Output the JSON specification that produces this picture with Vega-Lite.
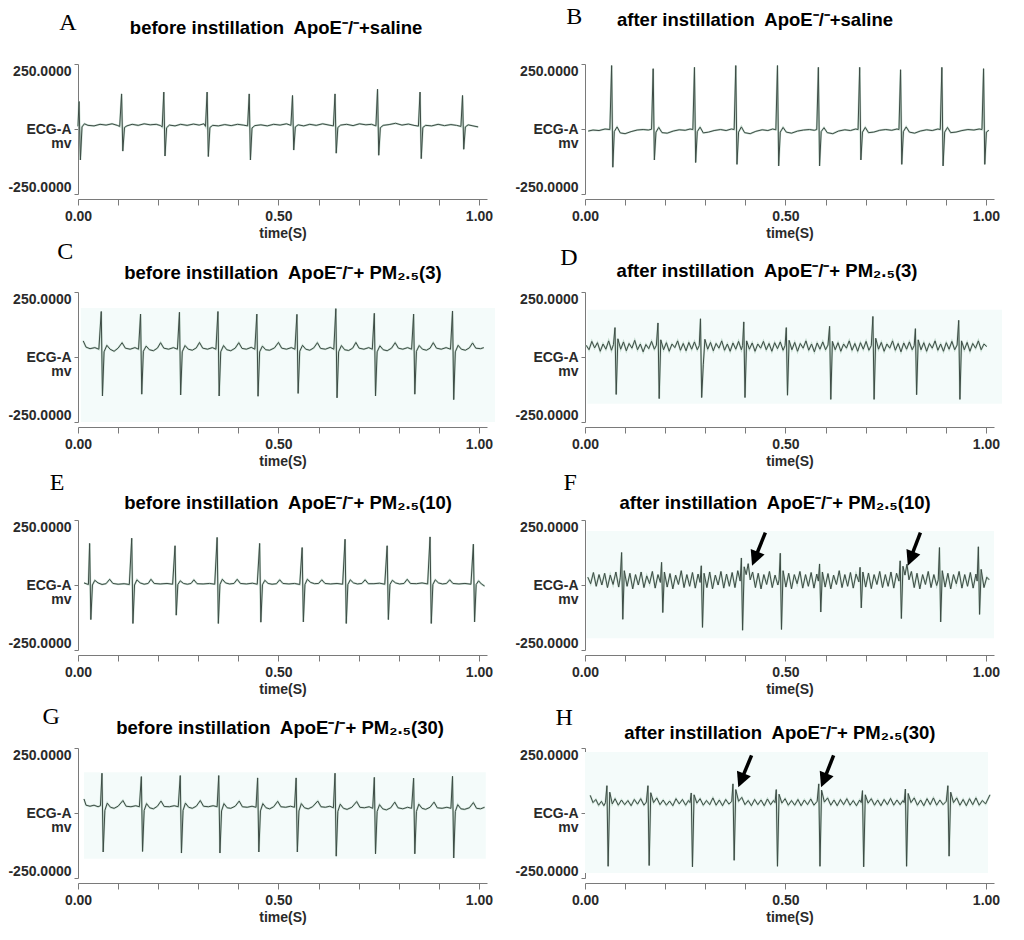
{
"$schema":"https://vega.github.io/schema/vega-lite/v6.json",
"background":"white",
"padding":{"left":7,"top":4,"right":5,"bottom":5},
"bounds":"flush",
"columns":2,
"spacing":{"row":98,"column":98},
"config":{"view":{"stroke":null},"axis":{"grid":false,"domainColor":"#7a7a7a","tickColor":"#7a7a7a","labelFont":"Liberation Sans Narrow, Arial Narrow, Liberation Sans, sans-serif","labelFontWeight":"bold","labelColor":"#2a2a2a","labelFontSize":14,"titleFont":"Liberation Sans Narrow, Arial Narrow, Liberation Sans, sans-serif","titleFontWeight":"bold","titleColor":"#2a2a2a","titleFontSize":14,"labelOverlap":false,"labelFlush":false}},
"datasets":{
"A":[{"t":0.0,"v":10},{"t":0.0025,"v":106},{"t":0.006,"v":-119},{"t":0.010,"v":8},{"t":0.016,"v":20},{"t":0.025,"v":14},{"t":0.040,"v":12},{"t":0.055,"v":18},{"t":0.070,"v":15},{"t":0.085,"v":20},{"t":0.098,"v":14},{"t":0.104,"v":10},
{"t":0.1087,"v":135},{"t":0.1117,"v":-85},{"t":0.116,"v":6},{"t":0.122,"v":12},{"t":0.135,"v":18},{"t":0.150,"v":14},{"t":0.165,"v":20},{"t":0.180,"v":16},{"t":0.195,"v":18},{"t":0.206,"v":13},{"t":0.210,"v":8},
{"t":0.214,"v":142},{"t":0.217,"v":-104},{"t":0.221,"v":5},{"t":0.228,"v":15},{"t":0.242,"v":12},{"t":0.256,"v":18},{"t":0.272,"v":14},{"t":0.288,"v":19},{"t":0.302,"v":15},{"t":0.314,"v":20},{"t":0.318,"v":10},
{"t":0.322,"v":142},{"t":0.325,"v":-106},{"t":0.329,"v":6},{"t":0.336,"v":14},{"t":0.350,"v":12},{"t":0.366,"v":17},{"t":0.382,"v":13},{"t":0.398,"v":18},{"t":0.412,"v":15},{"t":0.423,"v":12},
{"t":0.427,"v":135},{"t":0.430,"v":-119},{"t":0.434,"v":4},{"t":0.441,"v":13},{"t":0.456,"v":16},{"t":0.472,"v":12},{"t":0.488,"v":18},{"t":0.504,"v":15},{"t":0.520,"v":20},{"t":0.531,"v":14},
{"t":0.535,"v":129},{"t":0.538,"v":-81},{"t":0.542,"v":8},{"t":0.549,"v":16},{"t":0.563,"v":12},{"t":0.578,"v":18},{"t":0.594,"v":14},{"t":0.610,"v":20},{"t":0.626,"v":15},{"t":0.637,"v":12},
{"t":0.641,"v":135},{"t":0.644,"v":-93},{"t":0.648,"v":6},{"t":0.655,"v":15},{"t":0.670,"v":18},{"t":0.686,"v":13},{"t":0.702,"v":20},{"t":0.718,"v":16},{"t":0.732,"v":18},{"t":0.743,"v":12},
{"t":0.747,"v":153},{"t":0.750,"v":-101},{"t":0.754,"v":5},{"t":0.761,"v":14},{"t":0.776,"v":17},{"t":0.792,"v":22},{"t":0.808,"v":15},{"t":0.824,"v":19},{"t":0.838,"v":14},{"t":0.849,"v":11},
{"t":0.853,"v":142},{"t":0.856,"v":-114},{"t":0.860,"v":6},{"t":0.867,"v":14},{"t":0.882,"v":12},{"t":0.898,"v":18},{"t":0.914,"v":13},{"t":0.930,"v":17},{"t":0.944,"v":14},{"t":0.955,"v":10},
{"t":0.959,"v":129},{"t":0.962,"v":-78},{"t":0.966,"v":8},{"t":0.973,"v":16},{"t":0.985,"v":12},{"t":0.998,"v":8}],
"B":[{"t":0.008,"v":-8},{"t":0.02,"v":-4},{"t":0.035,"v":-6},{"t":0.05,"v":0},{"t":0.062,"v":-2},
{"t":0.0664,"v":244},{"t":0.0694,"v":-147},{"t":0.073,"v":-10},{"t":0.080,"v":8},{"t":0.088,"v":-15},{"t":0.100,"v":-18},{"t":0.115,"v":-10},{"t":0.130,"v":-4},{"t":0.145,"v":-2},{"t":0.158,"v":-4},{"t":0.166,"v":-1},
{"t":0.170,"v":232},{"t":0.173,"v":-119},{"t":0.177,"v":-12},{"t":0.184,"v":6},{"t":0.192,"v":-14},{"t":0.205,"v":-16},{"t":0.220,"v":-8},{"t":0.235,"v":-3},{"t":0.250,"v":-5},{"t":0.262,"v":0},{"t":0.269,"v":-2},
{"t":0.273,"v":237},{"t":0.276,"v":-129},{"t":0.280,"v":-10},{"t":0.287,"v":7},{"t":0.295,"v":-15},{"t":0.308,"v":-12},{"t":0.322,"v":-6},{"t":0.338,"v":-2},{"t":0.352,"v":-6},{"t":0.365,"v":0},{"t":0.372,"v":-2},
{"t":0.376,"v":244},{"t":0.379,"v":-136},{"t":0.383,"v":-12},{"t":0.390,"v":8},{"t":0.398,"v":-14},{"t":0.412,"v":-18},{"t":0.426,"v":-9},{"t":0.442,"v":-3},{"t":0.456,"v":-6},{"t":0.468,"v":0},{"t":0.476,"v":-3},
{"t":0.480,"v":244},{"t":0.483,"v":-142},{"t":0.487,"v":-12},{"t":0.494,"v":6},{"t":0.502,"v":-12},{"t":0.515,"v":-16},{"t":0.530,"v":-8},{"t":0.545,"v":-4},{"t":0.560,"v":-2},{"t":0.572,"v":-5},{"t":0.578,"v":-2},
{"t":0.582,"v":237},{"t":0.585,"v":-142},{"t":0.589,"v":-10},{"t":0.596,"v":5},{"t":0.604,"v":-14},{"t":0.618,"v":-18},{"t":0.632,"v":-8},{"t":0.648,"v":-3},{"t":0.662,"v":-6},{"t":0.675,"v":0},{"t":0.681,"v":-2},
{"t":0.685,"v":237},{"t":0.688,"v":-119},{"t":0.692,"v":-12},{"t":0.699,"v":6},{"t":0.707,"v":-14},{"t":0.720,"v":-12},{"t":0.735,"v":-5},{"t":0.750,"v":-2},{"t":0.765,"v":-5},{"t":0.778,"v":0},{"t":0.783,"v":-2},
{"t":0.787,"v":228},{"t":0.790,"v":-136},{"t":0.794,"v":-10},{"t":0.801,"v":8},{"t":0.809,"v":-12},{"t":0.822,"v":-16},{"t":0.836,"v":-8},{"t":0.852,"v":-3},{"t":0.866,"v":-6},{"t":0.880,"v":0},{"t":0.886,"v":-2},
{"t":0.890,"v":237},{"t":0.893,"v":-142},{"t":0.897,"v":-12},{"t":0.904,"v":6},{"t":0.912,"v":-14},{"t":0.925,"v":-12},{"t":0.940,"v":-6},{"t":0.955,"v":-2},{"t":0.970,"v":-4},{"t":0.983,"v":0},{"t":0.990,"v":-2},
{"t":0.994,"v":232},{"t":0.997,"v":-136},{"t":1.001,"v":-12},{"t":1.007,"v":-5}],
"C":[{"t":0.013,"v":62},{"t":0.020,"v":38},{"t":0.030,"v":32},{"t":0.042,"v":36},{"t":0.052,"v":30},
{"t":0.058,"v":175},{"t":0.061,"v":-150},{"t":0.065,"v":20},{"t":0.072,"v":45},{"t":0.080,"v":30},{"t":0.090,"v":22},{"t":0.100,"v":34},{"t":0.110,"v":55},{"t":0.118,"v":34},{"t":0.130,"v":30},{"t":0.142,"v":36},{"t":0.151,"v":30},
{"t":0.156,"v":165},{"t":0.159,"v":-143},{"t":0.163,"v":22},{"t":0.170,"v":42},{"t":0.178,"v":28},{"t":0.188,"v":24},{"t":0.198,"v":34},{"t":0.206,"v":55},{"t":0.214,"v":34},{"t":0.226,"v":30},{"t":0.238,"v":36},{"t":0.248,"v":30},
{"t":0.253,"v":172},{"t":0.256,"v":-146},{"t":0.260,"v":20},{"t":0.267,"v":44},{"t":0.275,"v":30},{"t":0.285,"v":26},{"t":0.295,"v":35},{"t":0.303,"v":56},{"t":0.311,"v":34},{"t":0.323,"v":30},{"t":0.335,"v":36},{"t":0.344,"v":30},
{"t":0.349,"v":175},{"t":0.352,"v":-150},{"t":0.356,"v":20},{"t":0.363,"v":44},{"t":0.371,"v":28},{"t":0.381,"v":24},{"t":0.392,"v":34},{"t":0.401,"v":55},{"t":0.409,"v":33},{"t":0.420,"v":30},{"t":0.432,"v":37},{"t":0.441,"v":30},
{"t":0.446,"v":165},{"t":0.449,"v":-151},{"t":0.453,"v":20},{"t":0.460,"v":42},{"t":0.468,"v":28},{"t":0.478,"v":26},{"t":0.490,"v":35},{"t":0.500,"v":56},{"t":0.508,"v":34},{"t":0.520,"v":30},{"t":0.532,"v":36},{"t":0.541,"v":30},
{"t":0.546,"v":164},{"t":0.549,"v":-140},{"t":0.553,"v":22},{"t":0.560,"v":45},{"t":0.568,"v":30},{"t":0.578,"v":26},{"t":0.588,"v":35},{"t":0.597,"v":55},{"t":0.605,"v":33},{"t":0.617,"v":30},{"t":0.629,"v":37},{"t":0.638,"v":30},
{"t":0.643,"v":186},{"t":0.646,"v":-157},{"t":0.650,"v":20},{"t":0.657,"v":44},{"t":0.665,"v":28},{"t":0.675,"v":25},{"t":0.685,"v":34},{"t":0.693,"v":56},{"t":0.701,"v":34},{"t":0.713,"v":30},{"t":0.725,"v":36},{"t":0.734,"v":30},
{"t":0.739,"v":168},{"t":0.742,"v":-150},{"t":0.746,"v":20},{"t":0.753,"v":43},{"t":0.761,"v":28},{"t":0.771,"v":24},{"t":0.782,"v":34},{"t":0.791,"v":55},{"t":0.799,"v":34},{"t":0.810,"v":30},{"t":0.822,"v":36},{"t":0.832,"v":30},
{"t":0.837,"v":165},{"t":0.840,"v":-143},{"t":0.844,"v":22},{"t":0.851,"v":44},{"t":0.859,"v":30},{"t":0.869,"v":26},{"t":0.878,"v":34},{"t":0.886,"v":55},{"t":0.894,"v":34},{"t":0.906,"v":30},{"t":0.918,"v":36},{"t":0.929,"v":30},
{"t":0.934,"v":177},{"t":0.937,"v":-164},{"t":0.941,"v":20},{"t":0.948,"v":45},{"t":0.956,"v":30},{"t":0.966,"v":26},{"t":0.976,"v":35},{"t":0.984,"v":54},{"t":0.992,"v":34},{"t":1.004,"v":32},{"t":1.012,"v":36}],
"D":[{"t":0.003,"v":45},{"t":0.010,"v":28},{"t":0.017,"v":60},{"t":0.024,"v":35},{"t":0.031,"v":55},{"t":0.038,"v":22},{"t":0.045,"v":50},{"t":0.052,"v":30},{"t":0.059,"v":62},{"t":0.066,"v":26},{"t":0.071,"v":48},
{"t":0.0748,"v":113},{"t":0.0778,"v":-144},{"t":0.082,"v":70},{"t":0.089,"v":30},{"t":0.096,"v":58},{"t":0.103,"v":24},{"t":0.110,"v":52},{"t":0.117,"v":34},{"t":0.124,"v":64},{"t":0.131,"v":28},{"t":0.138,"v":50},{"t":0.145,"v":20},{"t":0.152,"v":48},{"t":0.159,"v":32},{"t":0.166,"v":60},{"t":0.173,"v":30},{"t":0.178,"v":45},
{"t":0.182,"v":131},{"t":0.185,"v":-160},{"t":0.189,"v":66},{"t":0.196,"v":28},{"t":0.203,"v":55},{"t":0.210,"v":22},{"t":0.217,"v":50},{"t":0.224,"v":36},{"t":0.231,"v":62},{"t":0.238,"v":26},{"t":0.245,"v":52},{"t":0.252,"v":24},{"t":0.259,"v":56},{"t":0.266,"v":30},{"t":0.273,"v":58},{"t":0.280,"v":28},{"t":0.285,"v":44},
{"t":0.288,"v":147},{"t":0.291,"v":-156},{"t":0.295,"v":-30},{"t":0.299,"v":68},{"t":0.306,"v":30},{"t":0.313,"v":56},{"t":0.320,"v":24},{"t":0.327,"v":52},{"t":0.334,"v":34},{"t":0.341,"v":62},{"t":0.348,"v":26},{"t":0.355,"v":50},{"t":0.362,"v":22},{"t":0.369,"v":54},{"t":0.376,"v":30},{"t":0.383,"v":60},{"t":0.390,"v":28},{"t":0.393,"v":44},
{"t":0.396,"v":135},{"t":0.399,"v":-156},{"t":0.403,"v":62},{"t":0.410,"v":30},{"t":0.417,"v":54},{"t":0.424,"v":22},{"t":0.431,"v":50},{"t":0.438,"v":34},{"t":0.445,"v":60},{"t":0.452,"v":28},{"t":0.459,"v":52},{"t":0.466,"v":22},{"t":0.473,"v":55},{"t":0.480,"v":32},{"t":0.487,"v":58},{"t":0.494,"v":26},{"t":0.499,"v":44},
{"t":0.502,"v":113},{"t":0.505,"v":-147},{"t":0.509,"v":64},{"t":0.516,"v":28},{"t":0.523,"v":56},{"t":0.530,"v":22},{"t":0.537,"v":52},{"t":0.544,"v":34},{"t":0.551,"v":62},{"t":0.558,"v":26},{"t":0.565,"v":50},{"t":0.572,"v":20},{"t":0.579,"v":54},{"t":0.586,"v":30},{"t":0.593,"v":58},{"t":0.600,"v":28},{"t":0.606,"v":46},
{"t":0.610,"v":118},{"t":0.613,"v":-163},{"t":0.617,"v":60},{"t":0.624,"v":28},{"t":0.631,"v":55},{"t":0.638,"v":22},{"t":0.645,"v":50},{"t":0.652,"v":34},{"t":0.659,"v":62},{"t":0.666,"v":26},{"t":0.673,"v":52},{"t":0.680,"v":22},{"t":0.687,"v":55},{"t":0.694,"v":30},{"t":0.701,"v":60},{"t":0.708,"v":26},{"t":0.714,"v":44},
{"t":0.718,"v":156},{"t":0.721,"v":-163},{"t":0.725,"v":72},{"t":0.732,"v":30},{"t":0.739,"v":56},{"t":0.746,"v":22},{"t":0.753,"v":50},{"t":0.760,"v":34},{"t":0.767,"v":62},{"t":0.774,"v":26},{"t":0.781,"v":52},{"t":0.788,"v":20},{"t":0.795,"v":54},{"t":0.802,"v":30},{"t":0.809,"v":58},{"t":0.816,"v":28},{"t":0.821,"v":44},
{"t":0.824,"v":109},{"t":0.827,"v":-145},{"t":0.831,"v":66},{"t":0.838,"v":28},{"t":0.845,"v":55},{"t":0.852,"v":22},{"t":0.859,"v":52},{"t":0.866,"v":34},{"t":0.873,"v":62},{"t":0.880,"v":26},{"t":0.887,"v":50},{"t":0.894,"v":22},{"t":0.901,"v":55},{"t":0.908,"v":30},{"t":0.915,"v":60},{"t":0.922,"v":28},{"t":0.928,"v":46},
{"t":0.932,"v":141},{"t":0.935,"v":-163},{"t":0.939,"v":62},{"t":0.946,"v":28},{"t":0.953,"v":56},{"t":0.960,"v":22},{"t":0.967,"v":52},{"t":0.974,"v":34},{"t":0.981,"v":62},{"t":0.988,"v":28},{"t":0.995,"v":50},{"t":1.002,"v":40}],
"E":[{"t":0.015,"v":8},{"t":0.022,"v":4},{"t":0.026,"v":2},
{"t":0.029,"v":160},{"t":0.032,"v":-133},{"t":0.036,"v":0},{"t":0.042,"v":18},{"t":0.050,"v":8},{"t":0.060,"v":2},{"t":0.070,"v":5},{"t":0.079,"v":22},{"t":0.087,"v":6},{"t":0.100,"v":3},{"t":0.115,"v":5},{"t":0.128,"v":2},
{"t":0.134,"v":180},{"t":0.137,"v":-148},{"t":0.141,"v":0},{"t":0.147,"v":20},{"t":0.155,"v":8},{"t":0.165,"v":3},{"t":0.175,"v":6},{"t":0.182,"v":22},{"t":0.190,"v":6},{"t":0.205,"v":4},{"t":0.222,"v":6},{"t":0.236,"v":3},
{"t":0.242,"v":151},{"t":0.245,"v":-116},{"t":0.249,"v":2},{"t":0.255,"v":16},{"t":0.263,"v":6},{"t":0.273,"v":3},{"t":0.282,"v":6},{"t":0.289,"v":20},{"t":0.297,"v":5},{"t":0.312,"v":4},{"t":0.328,"v":6},{"t":0.341,"v":3},
{"t":0.347,"v":183},{"t":0.350,"v":-148},{"t":0.354,"v":2},{"t":0.360,"v":22},{"t":0.368,"v":8},{"t":0.378,"v":4},{"t":0.389,"v":6},{"t":0.397,"v":22},{"t":0.405,"v":6},{"t":0.420,"v":4},{"t":0.435,"v":7},{"t":0.447,"v":3},
{"t":0.453,"v":160},{"t":0.456,"v":-143},{"t":0.460,"v":1},{"t":0.466,"v":18},{"t":0.474,"v":6},{"t":0.484,"v":3},{"t":0.495,"v":5},{"t":0.503,"v":20},{"t":0.511,"v":6},{"t":0.526,"v":4},{"t":0.540,"v":6},{"t":0.553,"v":2},
{"t":0.559,"v":144},{"t":0.562,"v":-142},{"t":0.566,"v":2},{"t":0.572,"v":22},{"t":0.580,"v":10},{"t":0.590,"v":5},{"t":0.600,"v":6},{"t":0.608,"v":20},{"t":0.616,"v":6},{"t":0.630,"v":4},{"t":0.646,"v":6},{"t":0.660,"v":3},
{"t":0.666,"v":176},{"t":0.669,"v":-148},{"t":0.673,"v":2},{"t":0.679,"v":20},{"t":0.687,"v":8},{"t":0.697,"v":4},{"t":0.708,"v":6},{"t":0.716,"v":20},{"t":0.724,"v":5},{"t":0.738,"v":5},{"t":0.752,"v":7},{"t":0.765,"v":3},
{"t":0.771,"v":151},{"t":0.774,"v":-133},{"t":0.778,"v":2},{"t":0.784,"v":18},{"t":0.792,"v":8},{"t":0.802,"v":4},{"t":0.813,"v":6},{"t":0.821,"v":22},{"t":0.829,"v":6},{"t":0.844,"v":5},{"t":0.858,"v":8},{"t":0.872,"v":4},
{"t":0.878,"v":185},{"t":0.881,"v":-148},{"t":0.885,"v":2},{"t":0.891,"v":20},{"t":0.899,"v":8},{"t":0.909,"v":4},{"t":0.919,"v":6},{"t":0.927,"v":20},{"t":0.935,"v":6},{"t":0.950,"v":4},{"t":0.965,"v":6},{"t":0.980,"v":3},
{"t":0.986,"v":157},{"t":0.989,"v":-142},{"t":0.993,"v":2},{"t":0.999,"v":16},{"t":1.006,"v":4},{"t":1.014,"v":-4}],
"F":[{"t":0.007,"v":30},{"t":0.014,"v":5},{"t":0.021,"v":48},{"t":0.028,"v":-5},{"t":0.035,"v":40},{"t":0.042,"v":0},{"t":0.049,"v":45},{"t":0.056,"v":-10},{"t":0.063,"v":38},{"t":0.070,"v":2},{"t":0.077,"v":50},{"t":0.084,"v":-8},{"t":0.088,"v":30},
{"t":0.0913,"v":125},{"t":0.0943,"v":-132},{"t":0.098,"v":55},{"t":0.105,"v":-5},{"t":0.112,"v":45},{"t":0.119,"v":-15},{"t":0.126,"v":40},{"t":0.133,"v":0},{"t":0.140,"v":50},{"t":0.147,"v":-10},{"t":0.154,"v":35},{"t":0.161,"v":5},{"t":0.168,"v":52},{"t":0.175,"v":-12},{"t":0.182,"v":40},{"t":0.188,"v":10},
{"t":0.191,"v":87},{"t":0.194,"v":-106},{"t":0.198,"v":50},{"t":0.205,"v":-8},{"t":0.212,"v":44},{"t":0.219,"v":-15},{"t":0.226,"v":38},{"t":0.233,"v":2},{"t":0.240,"v":55},{"t":0.247,"v":-10},{"t":0.254,"v":40},{"t":0.261,"v":-5},{"t":0.268,"v":48},{"t":0.275,"v":-12},{"t":0.282,"v":42},{"t":0.287,"v":10},
{"t":0.290,"v":74},{"t":0.293,"v":-163},{"t":0.297,"v":45},{"t":0.304,"v":-10},{"t":0.311,"v":50},{"t":0.318,"v":-15},{"t":0.325,"v":38},{"t":0.332,"v":0},{"t":0.339,"v":52},{"t":0.346,"v":-12},{"t":0.353,"v":42},{"t":0.360,"v":-5},{"t":0.367,"v":48},{"t":0.374,"v":-10},{"t":0.381,"v":55},{"t":0.387,"v":15},
{"t":0.390,"v":104},{"t":0.393,"v":-174},{"t":0.397,"v":70},{"t":0.402,"v":40},{"t":0.407,"v":82},{"t":0.412,"v":20},{"t":0.418,"v":50},{"t":0.425,"v":-10},{"t":0.432,"v":45},{"t":0.439,"v":-15},{"t":0.446,"v":40},{"t":0.453,"v":2},{"t":0.460,"v":52},{"t":0.467,"v":-10},{"t":0.474,"v":38},{"t":0.481,"v":0},{"t":0.484,"v":20},
{"t":0.487,"v":122},{"t":0.490,"v":-171},{"t":0.494,"v":55},{"t":0.501,"v":-8},{"t":0.508,"v":45},{"t":0.515,"v":-15},{"t":0.522,"v":40},{"t":0.529,"v":5},{"t":0.536,"v":52},{"t":0.543,"v":-12},{"t":0.550,"v":40},{"t":0.557,"v":-5},{"t":0.564,"v":48},{"t":0.571,"v":-12},{"t":0.578,"v":42},{"t":0.582,"v":15},
{"t":0.585,"v":81},{"t":0.588,"v":-104},{"t":0.592,"v":50},{"t":0.599,"v":-8},{"t":0.606,"v":44},{"t":0.613,"v":-15},{"t":0.620,"v":38},{"t":0.627,"v":2},{"t":0.634,"v":55},{"t":0.641,"v":-10},{"t":0.648,"v":40},{"t":0.655,"v":-5},{"t":0.662,"v":48},{"t":0.669,"v":-12},{"t":0.676,"v":42},{"t":0.683,"v":12},
{"t":0.686,"v":68},{"t":0.689,"v":-88},{"t":0.693,"v":50},{"t":0.700,"v":-8},{"t":0.707,"v":46},{"t":0.714,"v":-14},{"t":0.721,"v":40},{"t":0.728,"v":2},{"t":0.735,"v":52},{"t":0.742,"v":-10},{"t":0.749,"v":40},{"t":0.756,"v":-5},{"t":0.763,"v":50},{"t":0.770,"v":-12},{"t":0.777,"v":45},{"t":0.783,"v":15},
{"t":0.786,"v":93},{"t":0.789,"v":-129},{"t":0.793,"v":72},{"t":0.798,"v":38},{"t":0.803,"v":80},{"t":0.808,"v":20},{"t":0.814,"v":52},{"t":0.821,"v":-10},{"t":0.828,"v":45},{"t":0.835,"v":-15},{"t":0.842,"v":40},{"t":0.849,"v":2},{"t":0.856,"v":52},{"t":0.863,"v":-10},{"t":0.870,"v":40},{"t":0.877,"v":-2},{"t":0.881,"v":20},
{"t":0.884,"v":144},{"t":0.887,"v":-142},{"t":0.891,"v":55},{"t":0.898,"v":-8},{"t":0.905,"v":45},{"t":0.912,"v":-15},{"t":0.919,"v":40},{"t":0.926,"v":5},{"t":0.933,"v":52},{"t":0.940,"v":-12},{"t":0.947,"v":40},{"t":0.954,"v":-5},{"t":0.961,"v":48},{"t":0.968,"v":-12},{"t":0.975,"v":42},{"t":0.978,"v":15},
{"t":0.981,"v":147},{"t":0.984,"v":-113},{"t":0.988,"v":60},{"t":0.995,"v":-10},{"t":1.002,"v":30},{"t":1.008,"v":20}],
"G":[{"t":0.015,"v":54},{"t":0.020,"v":30},{"t":0.030,"v":26},{"t":0.040,"v":30},{"t":0.050,"v":24},{"t":0.056,"v":28},
{"t":0.0598,"v":153},{"t":0.0628,"v":-150},{"t":0.067,"v":10},{"t":0.073,"v":38},{"t":0.081,"v":22},{"t":0.090,"v":18},{"t":0.100,"v":26},{"t":0.112,"v":48},{"t":0.120,"v":26},{"t":0.132,"v":24},{"t":0.144,"v":28},{"t":0.153,"v":24},
{"t":0.158,"v":140},{"t":0.161,"v":-148},{"t":0.165,"v":10},{"t":0.171,"v":36},{"t":0.179,"v":20},{"t":0.188,"v":16},{"t":0.198,"v":26},{"t":0.207,"v":46},{"t":0.215,"v":25},{"t":0.228,"v":24},{"t":0.240,"v":28},{"t":0.250,"v":24},
{"t":0.255,"v":144},{"t":0.258,"v":-154},{"t":0.262,"v":10},{"t":0.268,"v":38},{"t":0.276,"v":22},{"t":0.285,"v":18},{"t":0.295,"v":26},{"t":0.305,"v":48},{"t":0.313,"v":26},{"t":0.325,"v":24},{"t":0.337,"v":28},{"t":0.347,"v":24},
{"t":0.351,"v":144},{"t":0.354,"v":-154},{"t":0.358,"v":8},{"t":0.364,"v":36},{"t":0.372,"v":20},{"t":0.381,"v":18},{"t":0.392,"v":26},{"t":0.402,"v":46},{"t":0.410,"v":24},{"t":0.422,"v":22},{"t":0.434,"v":26},{"t":0.444,"v":22},
{"t":0.448,"v":135},{"t":0.451,"v":-150},{"t":0.455,"v":8},{"t":0.461,"v":36},{"t":0.469,"v":20},{"t":0.478,"v":16},{"t":0.488,"v":24},{"t":0.498,"v":45},{"t":0.506,"v":24},{"t":0.518,"v":22},{"t":0.530,"v":26},{"t":0.540,"v":22},
{"t":0.544,"v":135},{"t":0.547,"v":-150},{"t":0.551,"v":8},{"t":0.557,"v":36},{"t":0.565,"v":20},{"t":0.574,"v":16},{"t":0.585,"v":24},{"t":0.598,"v":46},{"t":0.606,"v":24},{"t":0.617,"v":22},{"t":0.628,"v":26},{"t":0.637,"v":20},
{"t":0.641,"v":153},{"t":0.644,"v":-166},{"t":0.648,"v":6},{"t":0.654,"v":34},{"t":0.662,"v":18},{"t":0.671,"v":14},{"t":0.683,"v":22},{"t":0.695,"v":44},{"t":0.703,"v":22},{"t":0.714,"v":20},{"t":0.726,"v":24},{"t":0.735,"v":18},
{"t":0.739,"v":137},{"t":0.742,"v":-157},{"t":0.746,"v":6},{"t":0.752,"v":32},{"t":0.760,"v":16},{"t":0.769,"v":12},{"t":0.780,"v":20},{"t":0.790,"v":42},{"t":0.798,"v":20},{"t":0.810,"v":16},{"t":0.822,"v":22},{"t":0.832,"v":18},
{"t":0.837,"v":134},{"t":0.840,"v":-157},{"t":0.844,"v":6},{"t":0.850,"v":34},{"t":0.858,"v":18},{"t":0.867,"v":14},{"t":0.878,"v":22},{"t":0.888,"v":42},{"t":0.896,"v":20},{"t":0.908,"v":18},{"t":0.920,"v":22},{"t":0.930,"v":18},
{"t":0.934,"v":141},{"t":0.937,"v":-173},{"t":0.941,"v":6},{"t":0.947,"v":32},{"t":0.955,"v":16},{"t":0.964,"v":14},{"t":0.976,"v":20},{"t":0.986,"v":40},{"t":0.994,"v":18},{"t":1.004,"v":16},{"t":1.014,"v":22}],
"H":[{"t":0.013,"v":68},{"t":0.020,"v":40},{"t":0.027,"v":52},{"t":0.034,"v":30},{"t":0.041,"v":45},{"t":0.047,"v":28},{"t":0.051,"v":40},
{"t":0.0547,"v":105},{"t":0.0577,"v":-205},{"t":0.0617,"v":80},{"t":0.068,"v":35},{"t":0.075,"v":55},{"t":0.083,"v":30},{"t":0.091,"v":50},{"t":0.099,"v":32},{"t":0.107,"v":48},{"t":0.115,"v":28},{"t":0.123,"v":52},{"t":0.131,"v":34},{"t":0.139,"v":55},{"t":0.147,"v":30},{"t":0.153,"v":42},
{"t":0.157,"v":105},{"t":0.160,"v":-202},{"t":0.164,"v":78},{"t":0.171,"v":40},{"t":0.179,"v":58},{"t":0.187,"v":32},{"t":0.195,"v":50},{"t":0.203,"v":30},{"t":0.211,"v":46},{"t":0.219,"v":28},{"t":0.227,"v":55},{"t":0.235,"v":35},{"t":0.243,"v":52},{"t":0.251,"v":30},{"t":0.258,"v":48},{"t":0.262,"v":40},
{"t":0.265,"v":77},{"t":0.268,"v":-207},{"t":0.272,"v":70},{"t":0.279,"v":38},{"t":0.287,"v":55},{"t":0.295,"v":30},{"t":0.303,"v":48},{"t":0.311,"v":32},{"t":0.319,"v":58},{"t":0.327,"v":30},{"t":0.335,"v":50},{"t":0.343,"v":28},{"t":0.351,"v":52},{"t":0.359,"v":34},{"t":0.366,"v":45},
{"t":0.369,"v":112},{"t":0.372,"v":-182},{"t":0.376,"v":90},{"t":0.383,"v":45},{"t":0.391,"v":60},{"t":0.399,"v":32},{"t":0.407,"v":48},{"t":0.415,"v":28},{"t":0.423,"v":52},{"t":0.431,"v":32},{"t":0.439,"v":50},{"t":0.447,"v":28},{"t":0.455,"v":54},{"t":0.463,"v":32},{"t":0.470,"v":48},{"t":0.474,"v":40},
{"t":0.477,"v":90},{"t":0.480,"v":-205},{"t":0.484,"v":72},{"t":0.491,"v":38},{"t":0.499,"v":55},{"t":0.507,"v":30},{"t":0.515,"v":48},{"t":0.523,"v":30},{"t":0.531,"v":52},{"t":0.539,"v":28},{"t":0.547,"v":50},{"t":0.555,"v":32},{"t":0.563,"v":54},{"t":0.571,"v":30},{"t":0.579,"v":45},
{"t":0.583,"v":112},{"t":0.586,"v":-205},{"t":0.590,"v":88},{"t":0.597,"v":42},{"t":0.605,"v":58},{"t":0.613,"v":30},{"t":0.621,"v":50},{"t":0.629,"v":28},{"t":0.637,"v":52},{"t":0.645,"v":32},{"t":0.653,"v":55},{"t":0.661,"v":30},{"t":0.669,"v":48},{"t":0.677,"v":28},{"t":0.685,"v":50},{"t":0.689,"v":40},
{"t":0.692,"v":86},{"t":0.695,"v":-207},{"t":0.699,"v":70},{"t":0.706,"v":38},{"t":0.714,"v":55},{"t":0.722,"v":30},{"t":0.730,"v":50},{"t":0.738,"v":28},{"t":0.746,"v":52},{"t":0.754,"v":32},{"t":0.762,"v":56},{"t":0.770,"v":30},{"t":0.778,"v":50},{"t":0.786,"v":32},{"t":0.793,"v":48},{"t":0.796,"v":40},
{"t":0.799,"v":92},{"t":0.802,"v":-205},{"t":0.806,"v":75},{"t":0.813,"v":40},{"t":0.821,"v":58},{"t":0.829,"v":30},{"t":0.837,"v":50},{"t":0.845,"v":28},{"t":0.853,"v":55},{"t":0.861,"v":32},{"t":0.869,"v":58},{"t":0.877,"v":30},{"t":0.885,"v":50},{"t":0.893,"v":32},{"t":0.901,"v":45},
{"t":0.905,"v":105},{"t":0.908,"v":-166},{"t":0.912,"v":80},{"t":0.919,"v":40},{"t":0.927,"v":58},{"t":0.935,"v":30},{"t":0.943,"v":52},{"t":0.951,"v":28},{"t":0.959,"v":55},{"t":0.967,"v":32},{"t":0.975,"v":58},{"t":0.983,"v":30},{"t":0.991,"v":48},{"t":0.999,"v":35},{"t":1.010,"v":70}],
"arrF":[{"t":0.4498,"v":201.7,"te":0.4241,"ve":103,"tt":0.4166,"tv":74.4},{"t":0.8365,"v":201.7,"te":0.8121,"ve":103,"tt":0.805,"tv":74.4}],
"arrH":[{"t":0.4154,"v":221.6,"te":0.3897,"ve":126.4,"tt":0.3823,"tv":98.8},{"t":0.620,"v":221.6,"te":0.5957,"ve":126.4,"tt":0.5887,"tv":98.8}]
},
"concat":[
{"width":409,"height":130,"layer":[
{"data":{"name":"A"},"mark":{"type":"line","color":"#c4dccf","strokeWidth":2},"encoding":{"x":{"field":"t","type":"quantitative","scale":{"domain":[0,1.02],"nice":false,"zero":false},"axis":{"values":[0,0.1,0.2,0.3,0.4,0.5,0.6,0.7,0.8,0.9,1],"labelExpr":"datum.value==0||datum.value==0.5||datum.value==1?format(datum.value,'.2f'):''","offset":5,"tickSize":6,"labelPadding":4,"title":"time(S)","titlePadding":3}},"y":{"field":"v","type":"quantitative","scale":{"domain":[-250,250],"nice":false,"zero":false},"axis":{"values":[-250,0,250],"labelExpr":"datum.value>0?'250.0000':(datum.value<0?'-250.0000':['ECG-A','mv'])","tickSize":4,"labelPadding":3,"title":null,"labelLineHeight":14,"labelBaseline":{"condition":[{"test":"datum.value>0","value":"top"},{"test":"datum.value<0","value":"bottom"}],"value":"middle"}}}}},
{"data":{"name":"A"},"mark":{"type":"line","color":"#3e4b45","strokeWidth":1},"encoding":{"x":{"field":"t","type":"quantitative"},"y":{"field":"v","type":"quantitative"}}},
{"data":{"values":[{"s":"A"}]},"mark":{"type":"text","font":"Liberation Serif","fontSize":24,"baseline":"alphabetic","align":"center","color":"black"},"encoding":{"x":{"datum":-0.025},"y":{"datum":381},"text":{"field":"s"}}},
{"data":{"values":[{"s":"before instillation\u00a0 ApoE⁻/⁻+saline"}]},"mark":{"type":"text","font":"Liberation Sans","fontWeight":"bold","fontSize":18.5,"baseline":"alphabetic","align":"center","color":"black"},"encoding":{"x":{"datum":0.494},"y":{"datum":365},"text":{"field":"s"}}}
]},
{"width":409,"height":130,"layer":[
{"data":{"name":"B"},"mark":{"type":"line","color":"#c4dccf","strokeWidth":2},"encoding":{"x":{"field":"t","type":"quantitative","scale":{"domain":[0,1.02],"nice":false,"zero":false},"axis":{"values":[0,0.1,0.2,0.3,0.4,0.5,0.6,0.7,0.8,0.9,1],"labelExpr":"datum.value==0||datum.value==0.5||datum.value==1?format(datum.value,'.2f'):''","offset":5,"tickSize":6,"labelPadding":4,"title":"time(S)","titlePadding":3}},"y":{"field":"v","type":"quantitative","scale":{"domain":[-250,250],"nice":false,"zero":false},"axis":{"values":[-250,0,250],"labelExpr":"datum.value>0?'250.0000':(datum.value<0?'-250.0000':['ECG-A','mv'])","tickSize":4,"labelPadding":3,"title":null,"labelLineHeight":14,"labelBaseline":{"condition":[{"test":"datum.value>0","value":"top"},{"test":"datum.value<0","value":"bottom"}],"value":"middle"}}}}},
{"data":{"name":"B"},"mark":{"type":"line","color":"#3e4b45","strokeWidth":1},"encoding":{"x":{"field":"t","type":"quantitative"},"y":{"field":"v","type":"quantitative"}}},
{"data":{"values":[{"s":"B"}]},"mark":{"type":"text","font":"Liberation Serif","fontSize":24,"baseline":"alphabetic","align":"center","color":"black"},"encoding":{"x":{"datum":-0.027},"y":{"datum":404},"text":{"field":"s"}}},
{"data":{"values":[{"s":"after instillation\u00a0 ApoE⁻/⁻+saline"}]},"mark":{"type":"text","font":"Liberation Sans","fontWeight":"bold","fontSize":18.5,"baseline":"alphabetic","align":"center","color":"black"},"encoding":{"x":{"datum":0.424},"y":{"datum":396},"text":{"field":"s"}}}
]},
{"width":409,"height":130,"layer":[
{"data":{"values":[{"x1":0.007,"x2":1.04,"y1":188,"y2":-250}]},"mark":{"type":"rect","color":"#f4fbfa"},"encoding":{"x":{"field":"x1","type":"quantitative"},"x2":{"field":"x2"},"y":{"field":"y1","type":"quantitative"},"y2":{"field":"y2"}}},
{"data":{"name":"C"},"mark":{"type":"line","color":"#c4dccf","strokeWidth":2},"encoding":{"x":{"field":"t","type":"quantitative","scale":{"domain":[0,1.02],"nice":false,"zero":false},"axis":{"values":[0,0.1,0.2,0.3,0.4,0.5,0.6,0.7,0.8,0.9,1],"labelExpr":"datum.value==0||datum.value==0.5||datum.value==1?format(datum.value,'.2f'):''","offset":5,"tickSize":6,"labelPadding":4,"title":"time(S)","titlePadding":3}},"y":{"field":"v","type":"quantitative","scale":{"domain":[-250,250],"nice":false,"zero":false},"axis":{"values":[-250,0,250],"labelExpr":"datum.value>0?'250.0000':(datum.value<0?'-250.0000':['ECG-A','mv'])","tickSize":4,"labelPadding":3,"title":null,"labelLineHeight":14,"labelBaseline":{"condition":[{"test":"datum.value>0","value":"top"},{"test":"datum.value<0","value":"bottom"}],"value":"middle"}}}}},
{"data":{"name":"C"},"mark":{"type":"line","color":"#3e4b45","strokeWidth":1},"encoding":{"x":{"field":"t","type":"quantitative"},"y":{"field":"v","type":"quantitative"}}},
{"data":{"values":[{"s":"C"}]},"mark":{"type":"text","font":"Liberation Serif","fontSize":24,"baseline":"alphabetic","align":"center","color":"black"},"encoding":{"x":{"datum":-0.032},"y":{"datum":377},"text":{"field":"s"}}},
{"data":{"values":[{"s":"before instillation\u00a0 ApoE⁻/⁻+ PM₂.₅(3)"}]},"mark":{"type":"text","font":"Liberation Sans","fontWeight":"bold","fontSize":18.5,"baseline":"alphabetic","align":"center","color":"black"},"encoding":{"x":{"datum":0.511},"y":{"datum":300},"text":{"field":"s"}}}
]},
{"width":409,"height":130,"layer":[
{"data":{"values":[{"x1":0.006,"x2":1.04,"y1":182,"y2":-180}]},"mark":{"type":"rect","color":"#f4fbfa"},"encoding":{"x":{"field":"x1","type":"quantitative"},"x2":{"field":"x2"},"y":{"field":"y1","type":"quantitative"},"y2":{"field":"y2"}}},
{"data":{"name":"D"},"mark":{"type":"line","color":"#c4dccf","strokeWidth":2},"encoding":{"x":{"field":"t","type":"quantitative","scale":{"domain":[0,1.02],"nice":false,"zero":false},"axis":{"values":[0,0.1,0.2,0.3,0.4,0.5,0.6,0.7,0.8,0.9,1],"labelExpr":"datum.value==0||datum.value==0.5||datum.value==1?format(datum.value,'.2f'):''","offset":5,"tickSize":6,"labelPadding":4,"title":"time(S)","titlePadding":3}},"y":{"field":"v","type":"quantitative","scale":{"domain":[-250,250],"nice":false,"zero":false},"axis":{"values":[-250,0,250],"labelExpr":"datum.value>0?'250.0000':(datum.value<0?'-250.0000':['ECG-A','mv'])","tickSize":4,"labelPadding":3,"title":null,"labelLineHeight":14,"labelBaseline":{"condition":[{"test":"datum.value>0","value":"top"},{"test":"datum.value<0","value":"bottom"}],"value":"middle"}}}}},
{"data":{"name":"D"},"mark":{"type":"line","color":"#3e4b45","strokeWidth":1},"encoding":{"x":{"field":"t","type":"quantitative"},"y":{"field":"v","type":"quantitative"}}},
{"data":{"values":[{"s":"D"}]},"mark":{"type":"text","font":"Liberation Serif","fontSize":24,"baseline":"alphabetic","align":"center","color":"black"},"encoding":{"x":{"datum":-0.040},"y":{"datum":354},"text":{"field":"s"}}},
{"data":{"values":[{"s":"after instillation\u00a0 ApoE⁻/⁻+ PM₂.₅(3)"}]},"mark":{"type":"text","font":"Liberation Sans","fontWeight":"bold","fontSize":18.5,"baseline":"alphabetic","align":"center","color":"black"},"encoding":{"x":{"datum":0.454},"y":{"datum":308},"text":{"field":"s"}}}
]},
{"width":409,"height":130,"layer":[
{"data":{"name":"E"},"mark":{"type":"line","color":"#c4dccf","strokeWidth":2},"encoding":{"x":{"field":"t","type":"quantitative","scale":{"domain":[0,1.02],"nice":false,"zero":false},"axis":{"values":[0,0.1,0.2,0.3,0.4,0.5,0.6,0.7,0.8,0.9,1],"labelExpr":"datum.value==0||datum.value==0.5||datum.value==1?format(datum.value,'.2f'):''","offset":5,"tickSize":6,"labelPadding":4,"title":"time(S)","titlePadding":3}},"y":{"field":"v","type":"quantitative","scale":{"domain":[-250,250],"nice":false,"zero":false},"axis":{"values":[-250,0,250],"labelExpr":"datum.value>0?'250.0000':(datum.value<0?'-250.0000':['ECG-A','mv'])","tickSize":4,"labelPadding":3,"title":null,"labelLineHeight":14,"labelBaseline":{"condition":[{"test":"datum.value>0","value":"top"},{"test":"datum.value<0","value":"bottom"}],"value":"middle"}}}}},
{"data":{"name":"E"},"mark":{"type":"line","color":"#3e4b45","strokeWidth":1},"encoding":{"x":{"field":"t","type":"quantitative"},"y":{"field":"v","type":"quantitative"}}},
{"data":{"values":[{"s":"E"}]},"mark":{"type":"text","font":"Liberation Serif","fontSize":24,"baseline":"alphabetic","align":"center","color":"black"},"encoding":{"x":{"datum":-0.052},"y":{"datum":365},"text":{"field":"s"}}},
{"data":{"values":[{"s":"before instillation\u00a0 ApoE⁻/⁻+ PM₂.₅(10)"}]},"mark":{"type":"text","font":"Liberation Sans","fontWeight":"bold","fontSize":18.5,"baseline":"alphabetic","align":"center","color":"black"},"encoding":{"x":{"datum":0.524},"y":{"datum":292},"text":{"field":"s"}}}
]},
{"width":409,"height":130,"layer":[
{"data":{"values":[{"x1":0.004,"x2":1.02,"y1":208,"y2":-205}]},"mark":{"type":"rect","color":"#f4fbfa"},"encoding":{"x":{"field":"x1","type":"quantitative"},"x2":{"field":"x2"},"y":{"field":"y1","type":"quantitative"},"y2":{"field":"y2"}}},
{"data":{"name":"F"},"mark":{"type":"line","color":"#c4dccf","strokeWidth":2},"encoding":{"x":{"field":"t","type":"quantitative","scale":{"domain":[0,1.02],"nice":false,"zero":false},"axis":{"values":[0,0.1,0.2,0.3,0.4,0.5,0.6,0.7,0.8,0.9,1],"labelExpr":"datum.value==0||datum.value==0.5||datum.value==1?format(datum.value,'.2f'):''","offset":5,"tickSize":6,"labelPadding":4,"title":"time(S)","titlePadding":3}},"y":{"field":"v","type":"quantitative","scale":{"domain":[-250,250],"nice":false,"zero":false},"axis":{"values":[-250,0,250],"labelExpr":"datum.value>0?'250.0000':(datum.value<0?'-250.0000':['ECG-A','mv'])","tickSize":4,"labelPadding":3,"title":null,"labelLineHeight":14,"labelBaseline":{"condition":[{"test":"datum.value>0","value":"top"},{"test":"datum.value<0","value":"bottom"}],"value":"middle"}}}}},
{"data":{"name":"F"},"mark":{"type":"line","color":"#3e4b45","strokeWidth":1},"encoding":{"x":{"field":"t","type":"quantitative"},"y":{"field":"v","type":"quantitative"}}},
{"data":{"name":"arrF"},"mark":{"type":"rule","color":"black","strokeWidth":3.5},"encoding":{"x":{"field":"t","type":"quantitative"},"y":{"field":"v","type":"quantitative"},"x2":{"field":"te"},"y2":{"field":"ve"}}},
{"data":{"name":"arrF"},"mark":{"type":"point","shape":"M0,0L0.9,1.8L-0.9,1.8Z","filled":true,"color":"black","opacity":1,"size":276,"angle":202},"encoding":{"x":{"field":"tt","type":"quantitative"},"y":{"field":"tv","type":"quantitative"}}},
{"data":{"values":[{"s":"F"}]},"mark":{"type":"text","font":"Liberation Serif","fontSize":24,"baseline":"alphabetic","align":"center","color":"black"},"encoding":{"x":{"datum":-0.037},"y":{"datum":365},"text":{"field":"s"}}},
{"data":{"values":[{"s":"after instillation\u00a0 ApoE⁻/⁻+ PM₂.₅(10)"}]},"mark":{"type":"text","font":"Liberation Sans","fontWeight":"bold","fontSize":18.5,"baseline":"alphabetic","align":"center","color":"black"},"encoding":{"x":{"datum":0.474},"y":{"datum":292},"text":{"field":"s"}}}
]},
{"width":409,"height":130,"layer":[
{"data":{"values":[{"x1":0.015,"x2":1.017,"y1":157,"y2":-176}]},"mark":{"type":"rect","color":"#f4fbfa"},"encoding":{"x":{"field":"x1","type":"quantitative"},"x2":{"field":"x2"},"y":{"field":"y1","type":"quantitative"},"y2":{"field":"y2"}}},
{"data":{"name":"G"},"mark":{"type":"line","color":"#c4dccf","strokeWidth":2},"encoding":{"x":{"field":"t","type":"quantitative","scale":{"domain":[0,1.02],"nice":false,"zero":false},"axis":{"values":[0,0.1,0.2,0.3,0.4,0.5,0.6,0.7,0.8,0.9,1],"labelExpr":"datum.value==0||datum.value==0.5||datum.value==1?format(datum.value,'.2f'):''","offset":5,"tickSize":6,"labelPadding":4,"title":"time(S)","titlePadding":3}},"y":{"field":"v","type":"quantitative","scale":{"domain":[-250,250],"nice":false,"zero":false},"axis":{"values":[-250,0,250],"labelExpr":"datum.value>0?'250.0000':(datum.value<0?'-250.0000':['ECG-A','mv'])","tickSize":4,"labelPadding":3,"title":null,"labelLineHeight":14,"labelBaseline":{"condition":[{"test":"datum.value>0","value":"top"},{"test":"datum.value<0","value":"bottom"}],"value":"middle"}}}}},
{"data":{"name":"G"},"mark":{"type":"line","color":"#3e4b45","strokeWidth":1},"encoding":{"x":{"field":"t","type":"quantitative"},"y":{"field":"v","type":"quantitative"}}},
{"data":{"values":[{"s":"G"}]},"mark":{"type":"text","font":"Liberation Serif","fontSize":24,"baseline":"alphabetic","align":"center","color":"black"},"encoding":{"x":{"datum":-0.067},"y":{"datum":342},"text":{"field":"s"}}},
{"data":{"values":[{"s":"before instillation\u00a0 ApoE⁻/⁻+ PM₂.₅(30)"}]},"mark":{"type":"text","font":"Liberation Sans","fontWeight":"bold","fontSize":18.5,"baseline":"alphabetic","align":"center","color":"black"},"encoding":{"x":{"datum":0.504},"y":{"datum":304},"text":{"field":"s"}}}
]},
{"width":409,"height":130,"layer":[
{"data":{"values":[{"x1":0.0,"x2":1.005,"y1":235,"y2":-231}]},"mark":{"type":"rect","color":"#f4fbfa"},"encoding":{"x":{"field":"x1","type":"quantitative"},"x2":{"field":"x2"},"y":{"field":"y1","type":"quantitative"},"y2":{"field":"y2"}}},
{"data":{"name":"H"},"mark":{"type":"line","color":"#c4dccf","strokeWidth":2},"encoding":{"x":{"field":"t","type":"quantitative","scale":{"domain":[0,1.02],"nice":false,"zero":false},"axis":{"values":[0,0.1,0.2,0.3,0.4,0.5,0.6,0.7,0.8,0.9,1],"labelExpr":"datum.value==0||datum.value==0.5||datum.value==1?format(datum.value,'.2f'):''","offset":5,"tickSize":6,"labelPadding":4,"title":"time(S)","titlePadding":3}},"y":{"field":"v","type":"quantitative","scale":{"domain":[-250,250],"nice":false,"zero":false},"axis":{"values":[-250,0,250],"labelExpr":"datum.value>0?'250.0000':(datum.value<0?'-250.0000':['ECG-A','mv'])","tickSize":4,"labelPadding":3,"title":null,"labelLineHeight":14,"labelBaseline":{"condition":[{"test":"datum.value>0","value":"top"},{"test":"datum.value<0","value":"bottom"}],"value":"middle"}}}}},
{"data":{"name":"H"},"mark":{"type":"line","color":"#3e4b45","strokeWidth":1},"encoding":{"x":{"field":"t","type":"quantitative"},"y":{"field":"v","type":"quantitative"}}},
{"data":{"name":"arrH"},"mark":{"type":"rule","color":"black","strokeWidth":3.5},"encoding":{"x":{"field":"t","type":"quantitative"},"y":{"field":"v","type":"quantitative"},"x2":{"field":"te"},"y2":{"field":"ve"}}},
{"data":{"name":"arrH"},"mark":{"type":"point","shape":"M0,0L0.9,1.8L-0.9,1.8Z","filled":true,"color":"black","opacity":1,"size":276,"angle":202},"encoding":{"x":{"field":"tt","type":"quantitative"},"y":{"field":"tv","type":"quantitative"}}},
{"data":{"values":[{"s":"H"}]},"mark":{"type":"text","font":"Liberation Serif","fontSize":24,"baseline":"alphabetic","align":"center","color":"black"},"encoding":{"x":{"datum":-0.052},"y":{"datum":338},"text":{"field":"s"}}},
{"data":{"values":[{"s":"after instillation\u00a0 ApoE⁻/⁻+ PM₂.₅(30)"}]},"mark":{"type":"text","font":"Liberation Sans","fontWeight":"bold","fontSize":18.5,"baseline":"alphabetic","align":"center","color":"black"},"encoding":{"x":{"datum":0.486},"y":{"datum":285},"text":{"field":"s"}}}
]}
]
}
